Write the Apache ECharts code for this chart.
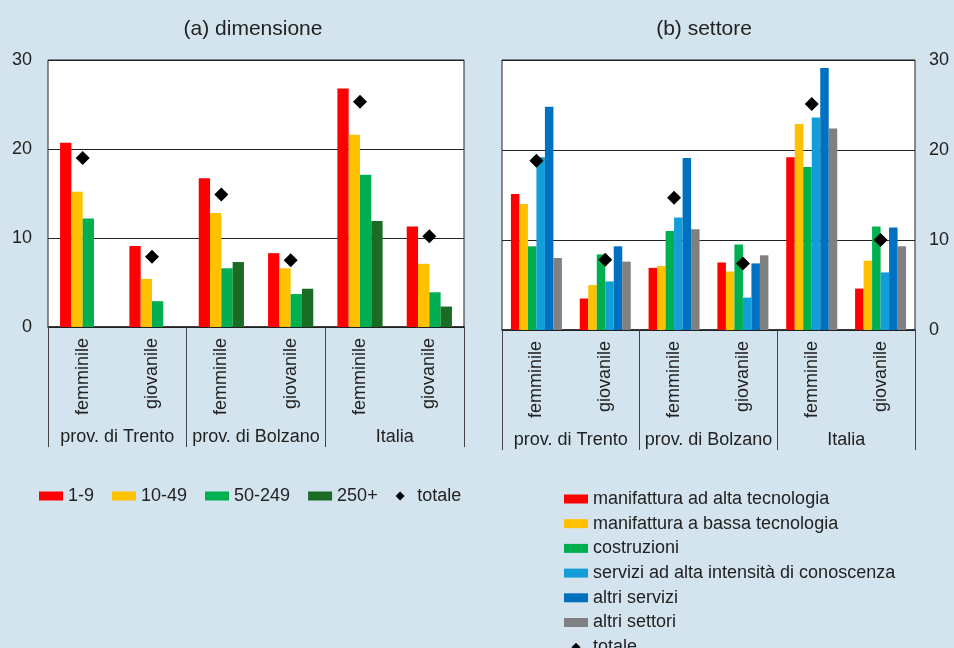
<!DOCTYPE html>
<html lang="it">
<head>
<meta charset="UTF-8">
<script src="https://cdn.jsdelivr.net/npm/echarts@6/dist/echarts.min.js"></script>
<title>dimensione e settore</title>
<style>
  html, body { margin: 0; padding: 0; background: #d3e4ee; }
</style>
</head>
<body>
<div id="main" style="width: 954px;height:648px;"></div>

<script type="text/javascript">
    // categorie (due livelli)
    var categorie = ['femminile', 'giovanile', 'femminile', 'giovanile', 'femminile', 'giovanile'];
    var gruppi = ['prov. di Trento', 'prov. di Bolzano', 'Italia'];
    var tickY = [0, 10, 20, 30];

    // (a) dimensione
    var dimNomi = ['1-9', '10-49', '50-249', '250+'];
    var dim_1_9 = [20.7, 9.1, 16.7, 8.3, 26.8, 11.3];
    var dim_10_49 = [15.2, 5.4, 12.8, 6.6, 21.6, 7.1];
    var dim_50_249 = [12.2, 2.9, 6.6, 3.7, 17.1, 3.9];
    var dim_250 = [null, null, 7.3, 4.3, 11.9, 2.3];
    var dimTotale = [19.0, 7.9, 14.9, 7.5, 25.3, 10.2];

    // (b) settore
    var setNomi = ['manifattura ad alta tecnologia', 'manifattura a bassa tecnologia', 'costruzioni',
        'servizi ad alta intensità di conoscenza', 'altri servizi', 'altri settori'];
    var setAltaTec = [15.1, 3.5, 6.9, 7.5, 19.2, 4.6];
    var setBassaTec = [14.0, 5.0, 7.1, 6.5, 22.9, 7.7];
    var setCostruzioni = [9.3, 8.4, 11.0, 9.5, 18.1, 11.5];
    var setServiziCon = [19.2, 5.4, 12.5, 3.6, 23.6, 6.4];
    var setAltriServizi = [24.8, 9.3, 19.1, 7.4, 29.1, 11.4];
    var setAltriSettori = [8.0, 7.6, 11.2, 8.3, 22.4, 9.3];
    var setTotale = [18.8, 7.8, 14.7, 7.4, 25.1, 10.0];

    var coloriDim = ['#ff0000', '#ffc000', '#00b050', '#1a6b24'];
    var coloriSet = ['#ff0000', '#ffc000', '#00b050', '#129fd9', '#0070c0', '#808080'];

    var font = 'Liberation Sans, Arial, sans-serif';
    var testo = '#222';
    // rombo con proporzioni fisse per la legenda
    var rombo = 'path://M0,5L5,0L10,5L5,10Z';

    var myChart = echarts.init(document.getElementById('main'));

    function assiX(gridIndex) {
        return [{
            type: 'category',
            gridIndex: gridIndex,
            data: categorie,
            axisLine: { lineStyle: { color: '#222', width: 1.5 } },
            axisTick: { show: false },
            axisLabel: { interval: 0, rotate: 90, margin: 11, fontSize: 18, color: testo, fontFamily: font }
        }, {
            type: 'category',
            gridIndex: gridIndex,
            position: 'bottom',
            data: gruppi,
            axisLine: { show: false },
            axisTick: { show: true, interval: 0, length: 120, lineStyle: { color: '#444', width: 1 } },
            axisLabel: { interval: 0, margin: 101, fontSize: 18, color: testo, fontFamily: font }
        }];
    }

    function assiY(gridIndex, pos, margin) {
        return {
            type: 'value',
            gridIndex: gridIndex,
            position: pos,
            min: tickY[0],
            max: tickY[tickY.length - 1],
            interval: 10,
            axisLine: { show: false },
            axisTick: { show: false },
            axisLabel: { margin: margin, fontSize: 18, color: testo, fontFamily: font },
            splitLine: { lineStyle: { color: '#222', width: 1 } }
        };
    }

    var serie = [];
    var datiDim = [dim_1_9, dim_10_49, dim_50_249, dim_250];
    for (var i = 0; i < dimNomi.length; i++) {
        serie.push({
            name: dimNomi[i], type: 'bar', xAxisIndex: 0, yAxisIndex: 0,
            barWidth: 11.3, barGap: '0%',
            itemStyle: { color: coloriDim[i] },
            data: datiDim[i]
        });
    }
    serie.push({
        name: 'totale', type: 'scatter', xAxisIndex: 0, yAxisIndex: 0,
        symbol: 'diamond', symbolSize: 14, z: 5,
        itemStyle: { color: '#000', opacity: 1 },
        data: dimTotale
    });

    var datiSet = [setAltaTec, setBassaTec, setCostruzioni, setServiziCon, setAltriServizi, setAltriSettori];
    for (var j = 0; j < setNomi.length; j++) {
        serie.push({
            name: setNomi[j], type: 'bar', xAxisIndex: 2, yAxisIndex: 1,
            barWidth: 8.5, barGap: '0%',
            itemStyle: { color: coloriSet[j] },
            data: datiSet[j]
        });
    }
    serie.push({
        name: 'totale', type: 'scatter', xAxisIndex: 2, yAxisIndex: 1,
        symbol: 'diamond', symbolSize: 14, z: 5,
        itemStyle: { color: '#000', opacity: 1 },
        data: setTotale
    });

    var option = {
        backgroundColor: '#d3e4ee',
        animation: false,
        textStyle: { fontFamily: font },
        title: [{
            text: '(a) dimensione', left: 248, top: 14, textAlign: 'center',
            textStyle: { fontSize: 21, fontWeight: 'normal', color: testo, fontFamily: font }
        }, {
            text: '(b) settore', left: 699, top: 14, textAlign: 'center',
            textStyle: { fontSize: 21, fontWeight: 'normal', color: testo, fontFamily: font }
        }],
        legend: [{
            orient: 'horizontal',
            left: 34, top: 482,
            itemWidth: 24, itemHeight: 9, itemGap: 18,
            symbolKeepAspect: true,
            textStyle: { fontSize: 18, color: testo, fontFamily: font },
            data: dimNomi.map(function (n) { return { name: n, icon: 'rect' }; })
                .concat([{ name: 'totale', icon: rombo }])
        }, {
            orient: 'vertical',
            left: 559, top: 485, height: 240,
            itemWidth: 24, itemHeight: 9, itemGap: 6.7,
            symbolKeepAspect: true,
            textStyle: { fontSize: 18, color: testo, fontFamily: font },
            data: setNomi.map(function (n) { return { name: n, icon: 'rect' }; })
                .concat([{ name: 'totale', icon: rombo }])
        }],
        grid: [{
            left: 48, top: 60, width: 416, height: 267,
            show: true, backgroundColor: '#fff', borderColor: '#222', borderWidth: 1
        }, {
            left: 502, top: 60, width: 413, height: 270,
            show: true, backgroundColor: '#fff', borderColor: '#222', borderWidth: 1
        }],
        xAxis: assiX(0).concat(assiX(1)),
        yAxis: [assiY(0, 'left', 16), assiY(1, 'right', 14)],
        series: serie
    };

    myChart.setOption(option);
</script>
</body>
</html>
